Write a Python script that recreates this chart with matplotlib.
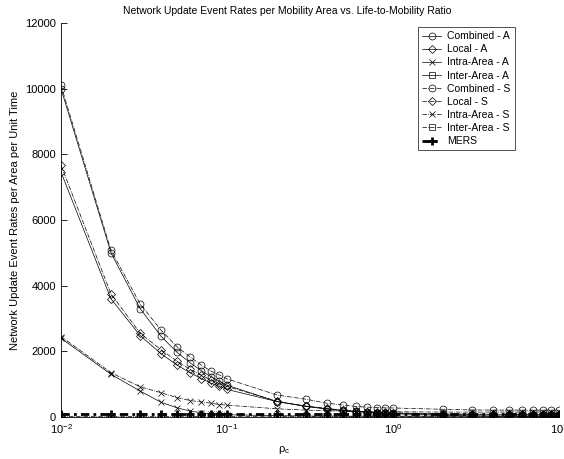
import numpy as np
import matplotlib.pyplot as plt

#%% data
rho = [0.01, 0.02, 0.03, 0.04, 0.05, 0.06, 0.07, 0.08, 0.09, 0.1,
       0.2, 0.3, 0.4, 0.5, 0.6, 0.7, 0.8, 0.9, 1,
       2, 3, 4, 5, 6, 7, 8, 9, 10]

combined_a = [10000, 5000, 3300, 2460, 1970, 1650, 1410, 1230, 1090, 970,
              470, 330, 250, 200, 170, 150, 135, 125, 115,
              80, 70, 65, 62, 60, 58, 57, 56, 55]
local_a = [7460, 3600, 2480, 1930, 1580, 1350, 1170, 1030, 930, 840,
           470, 320, 240, 190, 160, 140, 120, 110, 100,
           50, 35, 27, 22, 18, 15, 13, 12, 10]
intra_a = [2400, 1300, 790, 450, 280, 180, 130, 100, 80, 70,
           40, 30, 28, 26, 25, 25, 25, 25, 25,
           25, 25, 25, 25, 25, 25, 25, 25, 25]
inter_a = [10, 10, 10, 10, 10, 10, 10, 10, 10, 10,
           10, 10, 10, 10, 10, 10, 10, 10, 10,
           10, 10, 10, 10, 10, 10, 10, 10, 10]

combined_s = [10100, 5080, 3440, 2650, 2140, 1830, 1580, 1400, 1280, 1160,
              670, 540, 420, 365, 320, 300, 285, 280, 275,
              235, 215, 212, 210, 210, 210, 210, 210, 210]
local_s = [7670, 3750, 2550, 2050, 1700, 1450, 1270, 1130, 1020, 930,
           480, 330, 260, 210, 180, 160, 150, 140, 130,
           100, 90, 85, 80, 80, 80, 80, 80, 80]
intra_s = [2450, 1350, 920, 740, 590, 500, 460, 420, 380, 360,
           250, 210, 190, 180, 170, 165, 160, 160, 160,
           150, 150, 150, 150, 150, 150, 150, 150, 150]
inter_s = [20, 20, 20, 20, 20, 20, 20, 20, 20, 20,
           20, 20, 20, 20, 20, 20, 20, 20, 20,
           20, 20, 20, 20, 20, 20, 20, 20, 20]

mers = [100] * len(rho)

labels = ['Combined - A', 'Local - A', 'Intra-Area - A', 'Inter-Area - A',
          'Combined - S', 'Local - S', 'Intra-Area - S', 'Inter-Area - S', 'MERS']

#%% plot
plt.rcParams['font.family'] = ['Liberation Sans', 'DejaVu Sans']
plt.rcParams['mathtext.fontset'] = 'custom'
plt.rcParams['mathtext.rm'] = 'Liberation Sans'
plt.rcParams['mathtext.it'] = 'Liberation Sans'

fig = plt.figure(figsize=(5.64, 4.59), dpi=100)
ax = fig.add_axes([61/564, 42/459, 498/564, 394/459])

series = [combined_a, local_a, intra_a, inter_a, combined_s, local_s, intra_s, inter_s]
markers = ['o', 'D', 'x', 's', 'o', 'D', 'x', 's']
msizes = {'o': 5, 'D': 3.6, 'x': 4, 's': 4.2}
for i, ys in enumerate(series):
    ls = '-' if i < 4 else '-.'
    ax.plot(rho, ys, color='k', ls=ls, lw=0.5, marker=markers[i], ms=msizes[markers[i]],
            mfc='none', mec='k', mew=0.5, label=labels[i])
ax.plot(rho, mers, color='k', ls=(0, (3, 1.5, 1, 1.5)), lw=2, marker='+', ms=6,
        mew=2, mec='k', label=labels[8])

ax.set_xscale('log')
ax.set_xlim(0.01, 10)
ax.set_ylim(0, 12000)
ax.set_yticks(range(0, 12001, 2000))
ax.minorticks_off()
ax.tick_params(direction='in', labelsize=8, length=4, width=0.6)
for s in ['top', 'right']:
    ax.spines[s].set_visible(False)
for s in ['left', 'bottom']:
    ax.spines[s].set_linewidth(0.6)

fig.text(287/564, 1 - 11/459, 'Network Update Event Rates per Mobility Area vs. Life-to-Mobility Ratio',
         fontsize=7.5, ha='center', va='center')
ax.set_ylabel('Network Update Event Rates per Area per Unit Time', fontsize=8)
fig.text(284/564, 1 - 450/459, r'$\rho_c$', fontsize=8, ha='center', va='center')

leg = ax.legend(loc='upper right', bbox_to_anchor=(515/564, 432/459), bbox_transform=fig.transFigure,
                fontsize=7.5, frameon=True, fancybox=False, edgecolor='k', handlelength=1.8,
                labelspacing=0.3, borderpad=0.4, handletextpad=0.6, borderaxespad=0)
leg.get_frame().set_linewidth(0.6)

fig.savefig('out.png', dpi=100)
